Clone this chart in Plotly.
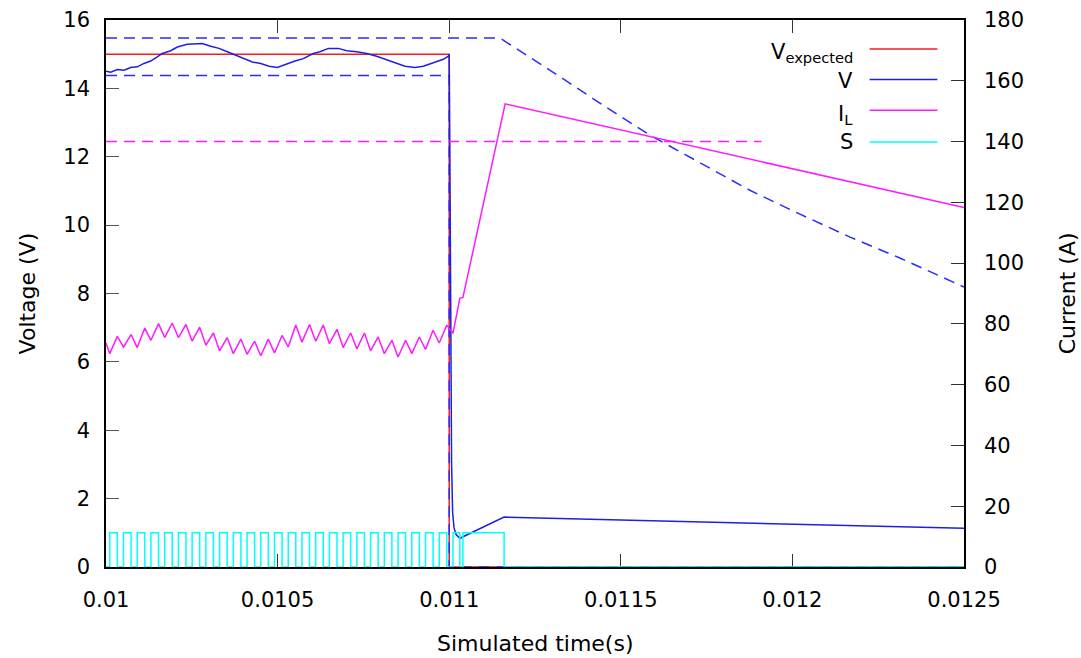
import plotly.graph_objects as go

# ---------------- data ----------------
# Expected voltage (V)
vexp_t = [0.0100, 0.0110, 0.0110, 0.0125]
vexp_v = [15.0, 15.0, 0.0, 0.0]

# Upper / lower tolerance bounds of the voltage (V), dashed
vup_t = [0.010000, 0.011148, 0.011294, 0.011439, 0.011585, 0.011731,
         0.011876, 0.012022, 0.012168, 0.012313, 0.012500]
vup_v = [15.47, 15.47, 14.53, 13.57, 12.63, 11.81, 11.02, 10.32, 9.65, 9.04, 8.19]
vlo_t = [0.0100, 0.0110, 0.0110, 0.0125]
vlo_v = [14.38, 14.38, 0.0, 0.0]

# Measured voltage V (V)
v_t = [0.0100000, 0.0100137, 0.0100329, 0.0100524, 0.0100720, 0.0100912,
       0.0101107, 0.0101302, 0.0101495, 0.0101640, 0.0101885, 0.0102078,
       0.0102369, 0.0102564, 0.0102806, 0.0103051, 0.0103293, 0.0103534,
       0.0103779, 0.0104021, 0.0104263, 0.0104508, 0.0104749, 0.0104991,
       0.0105187, 0.0105265, 0.0105507, 0.0105749, 0.0106040, 0.0106236,
       0.0106477, 0.0106769, 0.0107013, 0.0107305, 0.0107596, 0.0107888,
       0.0108129, 0.0108421, 0.0108712, 0.0109004, 0.0109245, 0.0109537,
       0.0109828, 0.0109974, 0.0110000, 0.0110020, 0.0110040, 0.0110070,
       0.0110100, 0.0110140, 0.0110200, 0.0110310, 0.0111600, 0.0125000]
v_v = [14.50, 14.47, 14.55, 14.53, 14.61, 14.63,
       14.73, 14.80, 14.92, 15.02, 15.10, 15.21,
       15.29, 15.29, 15.31, 15.23, 15.17, 15.07,
       14.97, 14.87, 14.77, 14.73, 14.65, 14.61,
       14.68, 14.73, 14.80, 14.87, 15.02, 15.07,
       15.17, 15.17, 15.10, 15.07, 15.02, 14.94,
       14.85, 14.75, 14.65, 14.61, 14.65, 14.75,
       14.85, 14.94, 15.00, 12.00, 7.00, 3.00,
       1.60, 1.15, 0.95, 0.84, 1.46, 1.13]

# Inductor current I_L (A)
il_t = [0.010000, 0.010011, 0.010033, 0.010051, 0.010073, 0.010091, 0.010113,
        0.010131, 0.010153, 0.010171, 0.010193, 0.010211, 0.010233, 0.010251,
        0.010273, 0.010291, 0.010313, 0.010331, 0.010353, 0.010371, 0.010393,
        0.010411, 0.010433, 0.010451, 0.010473, 0.010491, 0.010513, 0.010531,
        0.010553, 0.010571, 0.010593, 0.010611, 0.010633, 0.010651, 0.010673,
        0.010691, 0.010713, 0.010731, 0.010753, 0.010771, 0.010793, 0.010811,
        0.010833, 0.010851, 0.010873, 0.010891, 0.010913, 0.010931, 0.010953,
        0.010971, 0.010993, 0.011011, 0.011031, 0.011040, 0.011163, 0.012500]
il_a = [73.7, 70.2, 75.9, 72.4, 76.5, 72.2, 78.6,
        74.6, 80.1, 75.5, 80.3, 75.5, 79.8, 74.3,
        78.9, 73.0, 77.0, 71.1, 75.5, 70.2, 75.0,
        70.0, 74.3, 69.5, 75.0, 70.4, 76.2, 72.4,
        79.6, 74.0, 79.8, 74.3, 79.6, 73.5, 78.2,
        72.2, 77.0, 71.8, 77.0, 71.1, 75.7, 70.2,
        74.6, 69.1, 74.6, 70.2, 75.7, 71.6, 77.9,
        73.7, 79.6, 76.9, 88.4, 88.7, 152.4, 118.3]

# Current limit (A), dashed
ilim_t = [0.0100, 0.01191]
ilim_a = [140.0, 140.0]

# Switch state S: on/off instants (s)
s_on = [0.010011, 0.010051, 0.010091, 0.010131, 0.010171, 0.010211, 0.010251,
        0.010291, 0.010331, 0.010371, 0.010411, 0.010451, 0.010491, 0.010531,
        0.010571, 0.010611, 0.010651, 0.010691, 0.010731, 0.010771, 0.010811,
        0.010851, 0.010891, 0.010931, 0.010971, 0.011011, 0.011040]
s_off = [0.010033, 0.010073, 0.010113, 0.010153, 0.010193, 0.010233, 0.010273,
         0.010313, 0.010353, 0.010393, 0.010433, 0.010473, 0.010513, 0.010553,
         0.010593, 0.010633, 0.010673, 0.010713, 0.010753, 0.010793, 0.010833,
         0.010873, 0.010913, 0.010953, 0.010993, 0.011031, 0.011160]
s_start, s_end = 0.0100, 0.0125

x_tickvals = [0.0100, 0.0105, 0.0110, 0.0115, 0.0120, 0.0125]
x_ticktext = ["0.01", "0.0105", "0.011", "0.0115", "0.012", "0.0125"]
y_tickvals = [0, 2, 4, 6, 8, 10, 12, 14, 16]
y2_tickvals = [0, 20, 40, 60, 80, 100, 120, 140, 160, 180]

# ---------------- build S step series ----------------
s_t = [s_start]
s_v = [0]
for a, b in zip(s_on, s_off):
    s_t += [a, a, b, b]
    s_v += [0, 1, 1, 0]
s_t.append(s_end)
s_v.append(0)

# ---------------- figure ----------------
RED = "#f01e1e"
BLUE = "#1f1fe0"
BLUE_D = "#2b2bff"
MAG = "#ff1aff"
CYAN = "#00ffff"
FONT = "DejaVu Sans"
DASH = "11px,7px"

fig = go.Figure()
fig.add_trace(go.Scatter(x=vexp_t, y=vexp_v, mode="lines",
                         line=dict(color=RED, width=1.5), showlegend=False))
fig.add_trace(go.Scatter(x=vup_t, y=vup_v, mode="lines",
                         line=dict(color=BLUE_D, width=1.5, dash=DASH), showlegend=False))
fig.add_trace(go.Scatter(x=vlo_t, y=vlo_v, mode="lines",
                         line=dict(color=BLUE_D, width=1.5, dash=DASH), showlegend=False))
fig.add_trace(go.Scatter(x=v_t, y=v_v, mode="lines",
                         line=dict(color=BLUE, width=1.5), showlegend=False))
fig.add_trace(go.Scatter(x=il_t, y=il_a, mode="lines", yaxis="y2",
                         line=dict(color=MAG, width=1.5), showlegend=False))
fig.add_trace(go.Scatter(x=ilim_t, y=ilim_a, mode="lines", yaxis="y2",
                         line=dict(color=MAG, width=1.5, dash=DASH), showlegend=False))
fig.add_trace(go.Scatter(x=s_t, y=s_v, mode="lines",
                         line=dict(color=CYAN, width=1.5), showlegend=False))

tickfont = dict(family=FONT, size=21, color="#000000")
fig.update_layout(
    width=1081, height=658,
    margin=dict(l=106, r=117, t=20, b=91),
    paper_bgcolor="white", plot_bgcolor="white",
    font=dict(family=FONT, size=21, color="#000000"),
    xaxis=dict(range=[0.01, 0.0125], tickvals=x_tickvals, ticktext=x_ticktext,
               ticks="inside", ticklen=13, tickwidth=1, tickcolor="#333333",
               showline=True, linecolor="#000000", linewidth=1.5, mirror="ticks",
               showgrid=False, zeroline=False, tickfont=tickfont, automargin=False,
               ticklabelstandoff=13, layer="below traces"),
    yaxis=dict(range=[0, 16], tickvals=y_tickvals,
               ticks="inside", ticklen=13, tickwidth=1, tickcolor="#555555",
               showline=True, linecolor="#000000", linewidth=1.5,
               showgrid=False, zeroline=False, tickfont=tickfont, automargin=False,
               ticklabelstandoff=10, layer="below traces"),
    yaxis2=dict(range=[0, 180], tickvals=y2_tickvals, overlaying="y", side="right",
                ticks="inside", ticklen=13, tickwidth=1, tickcolor="#333333",
                showline=True, linecolor="#000000", linewidth=1.5,
                showgrid=False, zeroline=False, tickfont=tickfont, automargin=False,
                ticklabelstandoff=14, layer="below traces"),
)

# axis titles
fig.add_annotation(text="Simulated time(s)", xref="paper", yref="paper",
                   x=0.5, y=-0.139, xanchor="center", yanchor="middle",
                   showarrow=False, font=dict(family=FONT, size=22))
fig.add_annotation(text="Voltage (V)", xref="paper", yref="paper",
                   x=-0.091, y=0.5, xanchor="center", yanchor="middle", textangle=-90,
                   showarrow=False, font=dict(family=FONT, size=22))
fig.add_annotation(text="Current (A)", xref="paper", yref="paper",
                   x=1.121, y=0.5, xanchor="center", yanchor="middle", textangle=-90,
                   showarrow=False, font=dict(family=FONT, size=22))

# legend (gnuplot style: text on the left, line sample on the right)
legend_items = [("V<sub>expected</sub>", RED, 0.947, 0.940),
                ("V", BLUE, 0.891, 0.888),
                ("I<sub>L</sub>", MAG, 0.835, 0.826),
                ("S", CYAN, 0.777, 0.777)]
for label, col, yl, yt in legend_items:
    fig.add_annotation(text=label, xref="paper", yref="paper", x=0.873, y=yt,
                       xanchor="right", yanchor="middle", showarrow=False,
                       font=dict(family=FONT, size=21, color="#000000"))
    fig.add_shape(type="line", xref="paper", yref="paper", x0=0.890, x1=0.969,
                  y0=yl, y1=yl, line=dict(color=col, width=1.5))

# remove the default 8px page margin so the figure fills the window exactly
fig.write_html("out.html",
               config={"displayModeBar": False},
               post_script="document.body.style.margin='0';"
                           "document.body.style.overflow='hidden';")
